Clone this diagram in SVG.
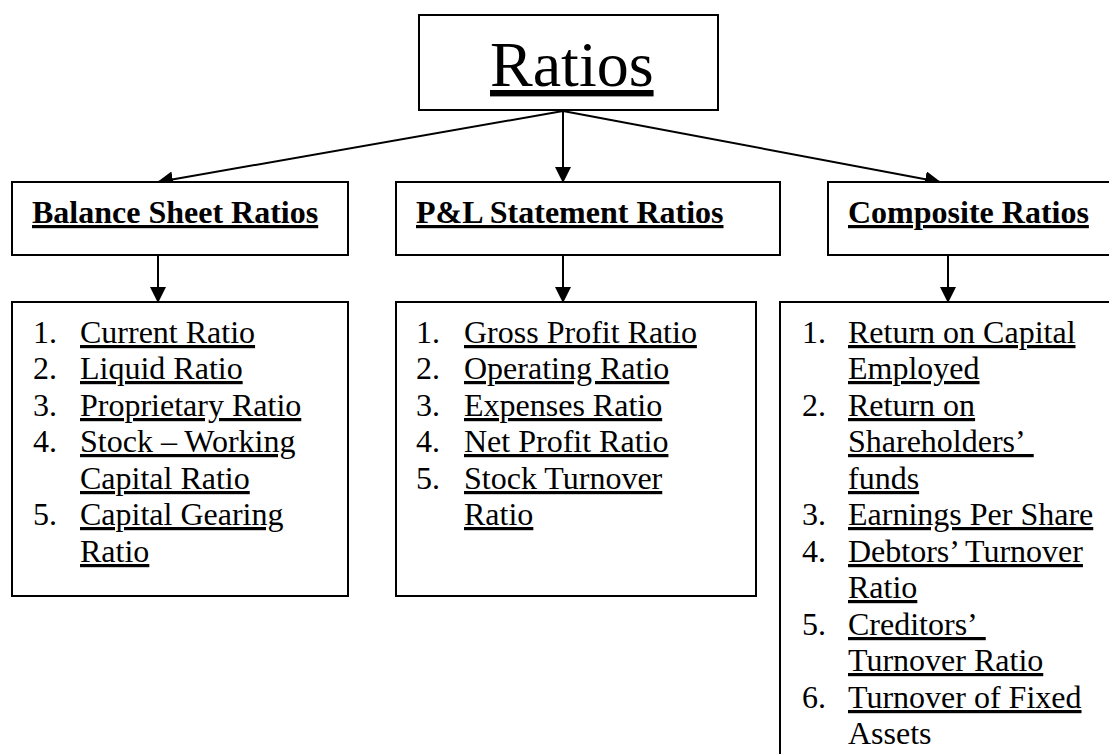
<svg xmlns="http://www.w3.org/2000/svg" width="1109" height="754" viewBox="0 0 1109 754">
<defs>
<style>
.box{fill:#fff;stroke:#000;stroke-width:2}
.t{font-family:"Liberation Serif","Times New Roman",serif;font-size:32px;fill:#000}
.u{text-decoration:underline}
.h{font-weight:bold;text-decoration:underline}
.c{stroke:#000;stroke-width:2;fill:none;marker-end:url(#ah)}
</style>
<marker id="ah" markerUnits="userSpaceOnUse" markerWidth="16" markerHeight="16" refX="15" refY="8" orient="auto">
<path d="M0,0 L16,8 L0,16 Z" fill="#000"/>
</marker>
</defs>
<rect width="1109" height="754" fill="#fff"/>
<g id="connectors">
<line class="c" x1="563" y1="111" x2="158" y2="182"/>
<line class="c" x1="563" y1="111" x2="563" y2="182"/>
<line class="c" x1="563" y1="111" x2="940" y2="182"/>
<line class="c" x1="158" y1="255" x2="158" y2="302"/>
<line class="c" x1="563" y1="255" x2="563" y2="302"/>
<line class="c" x1="948" y1="255" x2="948" y2="302"/>
</g>
<g id="ratios">
<rect class="box" x="419" y="15" width="299" height="95"/>
<text class="t u" x="490" y="86" style="font-size:64px">Ratios</text>
</g>
<g id="balance-sheet">
<rect class="box" x="12" y="182" width="336" height="73"/>
<text class="t h" x="32" y="223">Balance Sheet Ratios</text>
</g>
<g id="pl-statement">
<rect class="box" x="396" y="182" width="384" height="73"/>
<text class="t h" x="416" y="223">P&amp;L Statement Ratios</text>
</g>
<g id="composite">
<rect class="box" x="828" y="182" width="300" height="73"/>
<text class="t h" x="848" y="223">Composite Ratios</text>
</g>
<g id="balance-list">
<rect class="box" x="12" y="302" width="336" height="294"/>
<text class="t" x="33" y="343">1.</text><text class="t u" x="80" y="343">Current Ratio</text>
<text class="t" x="33" y="379">2.</text><text class="t u" x="80" y="379">Liquid Ratio</text>
<text class="t" x="33" y="416">3.</text><text class="t u" x="80" y="416">Proprietary Ratio</text>
<text class="t" x="33" y="452">4.</text><text class="t u" x="80" y="452">Stock – Working</text>
<text class="t u" x="80" y="489">Capital Ratio</text>
<text class="t" x="33" y="525">5.</text><text class="t u" x="80" y="525">Capital Gearing</text>
<text class="t u" x="80" y="562">Ratio</text>
</g>
<g id="pl-list">
<rect class="box" x="396" y="302" width="360" height="294"/>
<text class="t" x="416" y="343">1.</text><text class="t u" x="464" y="343">Gross Profit Ratio</text>
<text class="t" x="416" y="379">2.</text><text class="t u" x="464" y="379">Operating Ratio</text>
<text class="t" x="416" y="416">3.</text><text class="t u" x="464" y="416">Expenses Ratio</text>
<text class="t" x="416" y="452">4.</text><text class="t u" x="464" y="452">Net Profit Ratio</text>
<text class="t" x="416" y="489">5.</text><text class="t u" x="464" y="489">Stock Turnover</text>
<text class="t u" x="464" y="525">Ratio</text>
</g>
<g id="composite-list">
<rect class="box" x="780" y="302" width="360" height="480"/>
<text class="t" x="802" y="343">1.</text><text class="t u" x="848" y="343">Return on Capital</text>
<text class="t u" x="848" y="379">Employed</text>
<text class="t" x="802" y="416">2.</text><text class="t u" x="848" y="416">Return on</text>
<text class="t u" x="848" y="452">Shareholders’&#160;</text>
<text class="t u" x="848" y="489">funds</text>
<text class="t" x="802" y="525">3.</text><text class="t u" x="848" y="525">Earnings Per Share</text>
<text class="t" x="802" y="562">4.</text><text class="t u" x="848" y="562">Debtors’ Turnover</text>
<text class="t u" x="848" y="598">Ratio</text>
<text class="t" x="802" y="635">5.</text><text class="t u" x="848" y="635">Creditors’&#160;</text>
<text class="t u" x="848" y="671">Turnover Ratio</text>
<text class="t" x="802" y="708">6.</text><text class="t u" x="848" y="708">Turnover of Fixed</text>
<text class="t" x="848" y="744">Assets</text>
</g>
</svg>
